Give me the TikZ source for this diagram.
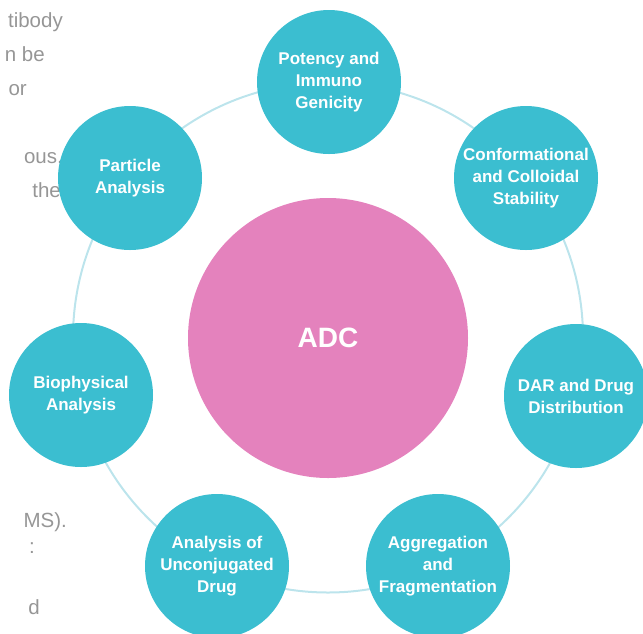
\documentclass[tikz,border=0pt]{standalone}
\usepackage{fontspec}
\setmainfont{Liberation Sans}
\definecolor{adcteal}{RGB}{59,190,208}
\definecolor{adcpink}{RGB}{228,130,189}
\definecolor{ringblue}{RGB}{188,228,236}
\definecolor{bodygray}{RGB}{150,150,150}
\begin{document}
\begin{tikzpicture}[x=1pt,y=-1pt,
  ringline/.style={draw=ringblue, line width=2pt},
  topic/.style={circle, fill=adcteal, minimum size=144pt, inner sep=0pt,
    text=white, align=center, font=\bfseries\fontsize{17}{22}\selectfont},
  core/.style={circle, fill=adcpink, minimum size=280pt, inner sep=0pt,
    text=white, font=\bfseries\fontsize{28}{32}\selectfont},
  bodytext/.style={anchor=base east, inner sep=0pt, text=bodygray,
    font=\fontsize{20.5}{24}\selectfont}]
\useasboundingbox (0,0) rectangle (643,633);

% running text of the page, cut by the left edge
\node[bodytext] (t1) at (63,27)  {tibody};
\node[bodytext] (t2) at (45,61)  {n be};
\node[bodytext] (t3) at (27,95)  {or};
\node[bodytext] (t4) at (63,163) {ous.};
\node[bodytext] (t5) at (61,197) {the};
\node[bodytext] (t6) at (67,527) {MS).};
\node[bodytext] (t7) at (35,553) {:};
\node[bodytext] (t8) at (40,614) {d};

% orbit through the topic circles
\coordinate (hub) at (328,337.5);
\draw[ringline] (hub) circle[radius=255];

% central circle
\node[core] (adc) at (328,338) {ADC};

% topics around the orbit
\node[topic] (potency)  at (329,82)  {Potency and\\Immuno\\Genicity};
\node[topic] (stab)     at (526,178) {Conformational\\and Colloidal\\Stability};
\node[topic] (dar)      at (576,396) {DAR and Drug\\Distribution};
\node[topic] (aggr)     at (438,566) {Aggregation\\and\\Fragmentation};
\node[topic] (unconj)   at (217,566) {Analysis of\\Unconjugated\\Drug};
\node[topic] (biophys)  at (81,395)  {Biophysical\\Analysis};
\node[topic] (particle) at (130,178) {Particle\\Analysis};
\end{tikzpicture}
\end{document}
